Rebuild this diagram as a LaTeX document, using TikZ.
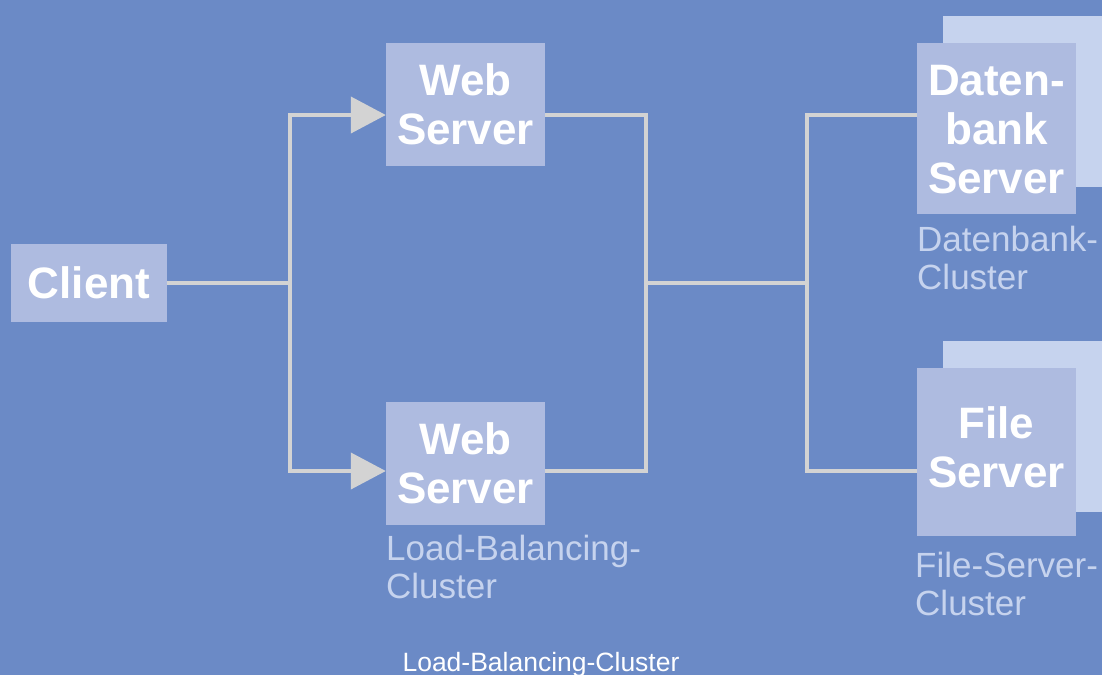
\documentclass[tikz,border=0pt]{standalone}
\usepackage{fontspec}
\setmainfont{Liberation Sans}
\usetikzlibrary{arrows.meta}
\definecolor{bg}{HTML}{6B8AC6}
\definecolor{boxfill}{HTML}{AEBBE0}
\definecolor{backfill}{HTML}{C6D3EE}
\definecolor{wire}{HTML}{D3D3D3}
\definecolor{lbl}{HTML}{C6D3EE}
\begin{document}
\begin{tikzpicture}[x=1pt,y=-1pt,
 srv/.style={fill=boxfill, draw=none, minimum width=159pt, inner sep=0pt, text=white, font=\fontsize{44}{49}\selectfont\bfseries, align=center},
 srvtext/.style={inner sep=0pt, text=white, font=\fontsize{44}{49}\selectfont\bfseries, align=center},
 backbox/.style={fill=backfill, draw=none, minimum width=159pt, minimum height=171pt, inner sep=0pt},
 lab/.style={text=lbl, font=\fontsize{35}{38}\selectfont, align=left, anchor=north west, inner sep=0pt},
 wireline/.style={draw=wire, line width=4pt},
 arr/.style={wireline, -{Triangle[length=35pt,width=36pt]}}
]
\fill[bg] (0,0) rectangle (1102,675);
\useasboundingbox (0,0) rectangle (1102,675);

\node[srv, minimum width=156pt, minimum height=78pt] (client) at (89,283) {Client};
\node[srv, minimum height=123pt] (web1) at (465.5,104.5) {Web\\Server};
\node[srv, minimum height=123pt] (web2) at (465.5,463.5) {Web\\Server};
\node[backbox] (dbback) at (1022.5,101.5) {};
\node[srv, minimum height=171pt] (db) at (996.5,128.5) {};
\node[srvtext] (dbtext) at ([yshift=-1.5pt]db.center) {Daten-\\bank\\Server};
\node[backbox] (fileback) at (1022.5,426.5) {};
\node[srv, minimum height=168pt] (file) at (996.5,452) {};
\node[srvtext] (filetext) at ([yshift=5pt]file.center) {File\\Server};

\node[lab] (lbc) at (386,535) {Load-Balancing-\\Cluster};
\node[lab] (dbc) at (917,226) {Datenbank-\\Cluster};
\node[lab] (fsc) at (915,552) {File-Server-\\Cluster};
\node[text=white, font=\fontsize{26.5}{30}\selectfont, anchor=base, inner sep=0pt] (cap) at (541,671) {Load-Balancing-Cluster};

\coordinate (j1) at (290,283);
\coordinate (j2) at (646,283);
\coordinate (j3) at (807,283);
\draw[wireline] (client.east) -- (j1);
\draw[arr] (j1) |- ([yshift=-10.5pt]web1.west);
\draw[arr] (j1) |- ([yshift=-7.5pt]web2.west);
\draw[wireline] ([yshift=-10.5pt]web1.east) -| (j2) |- ([yshift=-7.5pt]web2.east);
\draw[wireline] (j2) -- (j3);
\draw[wireline] ([yshift=13.5pt]db.west) -| (j3) |- ([yshift=-19pt]file.west);
\end{tikzpicture}
\end{document}
